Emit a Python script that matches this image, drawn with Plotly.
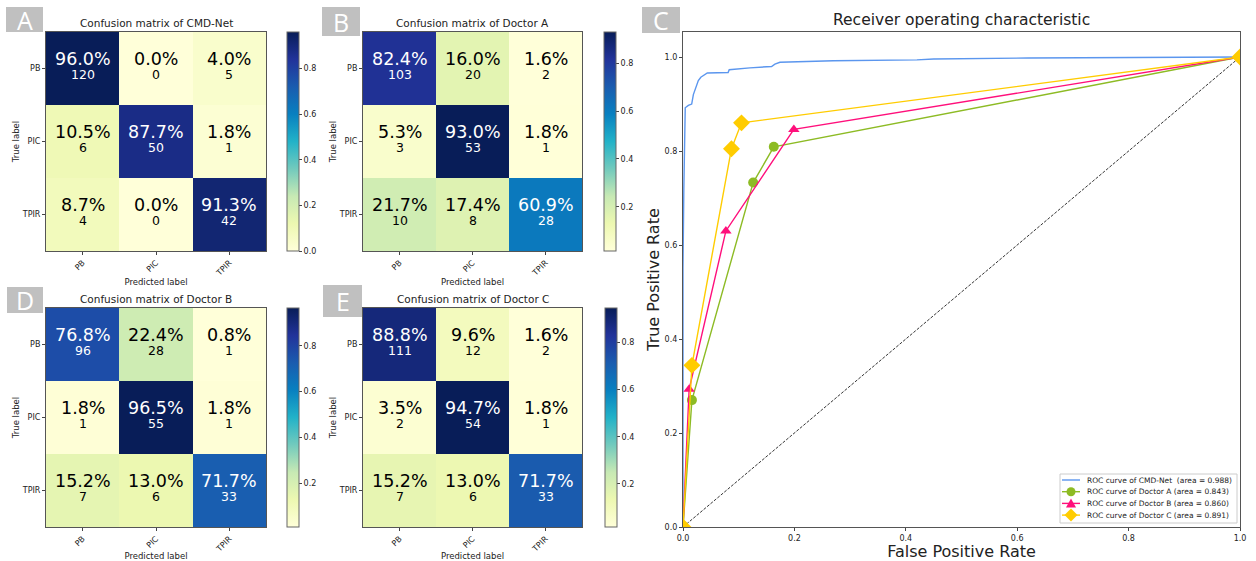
import plotly.graph_objects as go

W, H = 1256, 561

classes = ["PB", "PIC", "TPIR"]
cm_cmdnet = [[120, 0, 5], [6, 50, 1], [4, 0, 42]]
cm_doc_a = [[103, 20, 2], [3, 53, 1], [10, 8, 28]]
cm_doc_b = [[96, 28, 1], [1, 55, 1], [7, 6, 33]]
cm_doc_c = [[111, 12, 2], [2, 54, 1], [7, 6, 33]]
cm_titles = ["Confusion matrix of CMD-Net", "Confusion matrix of Doctor A",
             "Confusion matrix of Doctor B", "Confusion matrix of Doctor C"]

cmd_fpr = [0, 0, 0.0015, 0.004, 0.0096, 0.0156, 0.0186, 0.023, 0.0275, 0.032, 0.0365, 0.0437,
           0.081, 0.083, 0.12, 0.159, 0.165, 0.174, 0.27, 0.42, 0.45, 0.62, 1.0]
cmd_tpr = [0, 0.55, 0.72, 0.892, 0.897, 0.90, 0.92, 0.934, 0.95, 0.957, 0.96, 0.966,
           0.967, 0.973, 0.977, 0.980, 0.985, 0.989, 0.992, 0.994, 0.996, 0.998, 1.0]
doc_a_fpr = [0, 0.016, 0.126, 0.163, 1.0]
doc_a_tpr = [0, 0.270, 0.733, 0.809, 1.0]
doc_b_fpr = [0, 0.011, 0.077, 0.199, 1.0]
doc_b_tpr = [0, 0.293, 0.630, 0.846, 1.0]
doc_c_fpr = [0, 0.016, 0.087, 0.105, 1.0]
doc_c_tpr = [0, 0.344, 0.805, 0.860, 1.0]
roc_names = ["ROC curve of CMD-Net  (area = 0.988)", "ROC curve of Doctor A (area = 0.843)",
             "ROC curve of Doctor B (area = 0.860)", "ROC curve of Doctor C (area = 0.891)"]
roc_colors = ["#5b96ee", "#8dbb24", "#ff0f7b", "#ffcc00"]

ylgnbu = ["#ffffd9", "#edf8b1", "#c7e9b4", "#72cabd", "#22b2c8", "#0880c0", "#1a5caf", "#22339a", "#081d58"]
cscale = [[i / 8, c] for i, c in enumerate(ylgnbu)]

FONT = "DejaVu Sans"
TXT = "#222"


def xd(a, b):
    return [a / W, b / W]


def yd(a, b):
    return [1 - b / H, 1 - a / H]


def px(xp):
    return xp / W


def py(yp):
    return 1 - yp / H


fig = go.Figure()

panels = [
    (46, 266, 32, 251, 287),
    (363, 582, 32, 251, 604),
    (46, 266, 308, 527, 287),
    (363, 582, 308, 527, 605),
]
mats = [cm_cmdnet, cm_doc_a, cm_doc_b, cm_doc_c]
annotations = []
shapes = []

for i, (m, (x0, x1, y0, y1, cbx), title) in enumerate(zip(mats, panels, cm_titles)):
    k = i + 1
    xa = "x" if k == 1 else f"x{k}"
    ya = "y" if k == 1 else f"y{k}"
    norm = [[v / sum(row) for v in row] for row in m]
    flat = [v for row in norm for v in row]
    zmin, zmax = min(flat), max(flat)
    fig.add_trace(go.Heatmap(
        z=norm, x=classes, y=classes, xaxis=xa, yaxis=ya,
        colorscale=cscale, zmin=zmin, zmax=zmax, showscale=True,
        hoverinfo="skip",
        colorbar=dict(x=cbx / W, xanchor="left", xpad=0, ypad=0,
                      y=1 - y0 / H, yanchor="top", len=(y1 - y0) / H, lenmode="fraction",
                      thickness=12, outlinewidth=1, outlinecolor="#666",
                      ticks="outside", ticklen=3, tickcolor="#444", dtick=0.2, tick0=0,
                      tickformat=".1f", tickfont=dict(family=FONT, size=8, color=TXT)),
    ))
    axk = "" if k == 1 else str(k)
    fig.update_layout(**{
        f"xaxis{axk}": dict(domain=xd(x0, x1), anchor=ya, showline=True, mirror=True,
                            linecolor="#555", linewidth=1, ticks="outside", ticklen=3,
                            tickcolor="#444", automargin=False,
                            tickangle=-45, tickfont=dict(family=FONT, size=8, color=TXT),
                            title=dict(text="Predicted label", standoff=2,
                                       font=dict(family=FONT, size=8.5, color=TXT)),
                            showgrid=False, zeroline=False),
        f"yaxis{axk}": dict(domain=yd(y0, y1), anchor=xa, showline=True, mirror=True,
                            linecolor="#555", linewidth=1, ticks="outside", ticklen=3,
                            tickcolor="#444", automargin=False,
                            autorange="reversed", tickfont=dict(family=FONT, size=8, color=TXT),
                            title=dict(text="True label", standoff=0,
                                       font=dict(family=FONT, size=8.5, color=TXT)),
                            showgrid=False, zeroline=False),
    })
    thr = (zmin + zmax) / 2
    for r, row in enumerate(m):
        for c, cnt in enumerate(row):
            v = norm[r][c]
            col = "white" if v > thr else "black"
            annotations.append(dict(x=classes[c], y=classes[r], xref=xa, yref=ya,
                                    text=f"{v * 100:.1f}%", showarrow=False, yshift=9.5,
                                    font=dict(family=FONT, size=17.5, color=col)))
            annotations.append(dict(x=classes[c], y=classes[r], xref=xa, yref=ya,
                                    text=str(cnt), showarrow=False, yshift=-6,
                                    font=dict(family=FONT, size=12.5, color=col)))
    annotations.append(dict(x=px((x0 + x1) / 2), y=py(y0 - 9), xref="paper", yref="paper",
                            text=title, showarrow=False, xanchor="center", yanchor="middle",
                            font=dict(family=FONT, size=10.5, color=TXT)))

# ROC panel
rx0, rx1, ry0, ry1 = 683, 1240, 32, 527
fig.add_trace(go.Scatter(x=[0, 1], y=[0, 1], mode="lines", xaxis="x5", yaxis="y5",
                         line=dict(color="black", width=0.8, dash="3px,1.5px"),
                         showlegend=False, hoverinfo="skip"))
fig.add_trace(go.Scatter(x=cmd_fpr, y=cmd_tpr, mode="lines", name=roc_names[0], showlegend=False,
                         xaxis="x5", yaxis="y5", line=dict(color=roc_colors[0], width=1.4)))
fig.add_trace(go.Scatter(x=doc_a_fpr, y=doc_a_tpr, mode="lines+markers", name=roc_names[1],
                         showlegend=False,
                         xaxis="x5", yaxis="y5", line=dict(color=roc_colors[1], width=1.4),
                         marker=dict(symbol="circle", size=10, color=roc_colors[1])))
fig.add_trace(go.Scatter(x=doc_b_fpr, y=doc_b_tpr, mode="lines+markers", name=roc_names[2],
                         showlegend=False,
                         xaxis="x5", yaxis="y5", line=dict(color=roc_colors[2], width=1.4),
                         marker=dict(symbol="triangle-up", size=10, color=roc_colors[2])))
fig.add_trace(go.Scatter(x=doc_c_fpr, y=doc_c_tpr, mode="lines+markers", name=roc_names[3],
                         showlegend=False,
                         xaxis="x5", yaxis="y5", line=dict(color=roc_colors[3], width=1.4),
                         marker=dict(symbol="diamond", size=13, color=roc_colors[3])))

fig.update_layout(
    xaxis5=dict(domain=xd(rx0, rx1), anchor="y5", range=[0, 1], showline=True, mirror=True,
                linecolor="#555", linewidth=1.2, ticks="outside", ticklen=3, dtick=0.2, tick0=0,
                tickcolor="#444", automargin=False,
                tickformat=".1f", tickfont=dict(family=FONT, size=8, color=TXT),
                showgrid=False, zeroline=False,
                title=dict(text="False Positive Rate", standoff=5,
                           font=dict(family=FONT, size=16, color=TXT))),
    yaxis5=dict(domain=yd(ry0, ry1), anchor="x5", range=[0, 1.0533], showline=True, mirror=True,
                linecolor="#555", linewidth=1.2, ticks="outside", ticklen=3, dtick=0.2, tick0=0,
                tickcolor="#444", automargin=False,
                tickformat=".1f", tickfont=dict(family=FONT, size=8, color=TXT),
                showgrid=False, zeroline=False,
                title=dict(text="True Positive Rate", standoff=0,
                           font=dict(family=FONT, size=16, color=TXT))),
)
annotations.append(dict(x=px((rx0 + rx1) / 2), y=py(20), xref="paper", yref="paper",
                        text="Receiver operating characteristic", showarrow=False,
                        xanchor="center", yanchor="middle",
                        font=dict(family=FONT, size=15.5, color=TXT)))

# compact legend (matplotlib-style), drawn in pixel layout
lg_x0, lg_x1, lg_y0, lg_y1 = 1060, 1237, 474, 523
shapes.append(dict(type="rect", xref="paper", yref="paper", x0=px(lg_x0), x1=px(lg_x1),
                   y0=py(lg_y1), y1=py(lg_y0), fillcolor="rgba(255,255,255,0.9)",
                   line=dict(color="#cccccc", width=1), layer="above"))
marker_kinds = [None, "circle", "M -5 -4 L 5 -4 L 0 5 Z", "M 0 -6.5 L 6.5 0 L 0 6.5 L -6.5 0 Z"]
for j, (name, colr, mk) in enumerate(zip(roc_names, roc_colors, marker_kinds)):
    yy = 480 + j * 11.7
    shapes.append(dict(type="line", xref="paper", yref="paper", x0=px(1062), x1=px(1080),
                       y0=py(yy), y1=py(yy), line=dict(color=colr, width=1.4), layer="above"))
    if mk == "circle":
        shapes.append(dict(type="circle", xref="paper", yref="paper", xsizemode="pixel",
                           ysizemode="pixel", xanchor=px(1071), yanchor=py(yy),
                           x0=-4.5, x1=4.5, y0=-4.5, y1=4.5,
                           fillcolor=colr, line=dict(width=0), layer="above"))
    elif mk is not None:
        shapes.append(dict(type="path", xref="paper", yref="paper", xsizemode="pixel",
                           ysizemode="pixel", xanchor=px(1071), yanchor=py(yy), path=mk,
                           fillcolor=colr, line=dict(width=0), layer="above"))
    annotations.append(dict(x=px(1085), y=py(yy), xref="paper", yref="paper", text=name,
                            showarrow=False, xanchor="left", yanchor="middle",
                            font=dict(family=FONT, size=7.5, color=TXT)))

# panel letter boxes
letters = [("A", 6, 43, 7, 32), ("B", 322, 360, 7, 36), ("C", 642, 680, 7, 33),
           ("D", 7, 43, 287, 313), ("E", 323, 362, 285, 317)]
for L, a, b, c, d in letters:
    shapes.append(dict(type="rect", xref="paper", yref="paper", x0=px(a), x1=px(b),
                       y0=py(d), y1=py(c), fillcolor="#c0c0c0", line=dict(width=0),
                       layer="below"))
    annotations.append(dict(x=px((a + b) / 2), y=py((c + d) / 2), xref="paper", yref="paper",
                            text=L, showarrow=False, xanchor="center", yanchor="middle",
                            font=dict(family="Open Sans", size=25, color="white")))

fig.update_layout(width=W, height=H, margin=dict(l=0, r=0, t=0, b=0, autoexpand=False),
                  paper_bgcolor="white", plot_bgcolor="white", showlegend=False,
                  annotations=annotations, shapes=shapes)

fig.write_html("out.html", config={"displayModeBar": False},
               post_script="document.body.style.margin='0';document.body.style.overflow='hidden';")
